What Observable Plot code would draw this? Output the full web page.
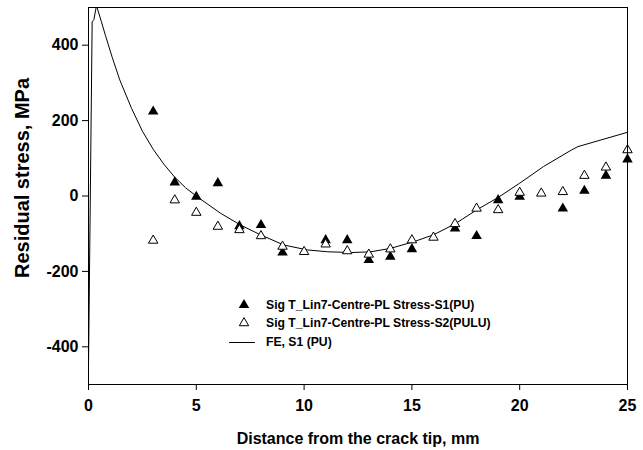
<!DOCTYPE html>
<html><head><meta charset="utf-8">
<script src="https://cdn.jsdelivr.net/npm/d3@7"></script>
<script src="https://cdn.jsdelivr.net/npm/@observablehq/plot@0.6"></script>
<style>
body{margin:0;background:#fff;}
#wrap{position:relative;width:643px;height:450px;font-family:"Liberation Sans",Arial,sans-serif;}
#legend{position:absolute;left:0;top:0;pointer-events:none;}
</style></head><body><div id="wrap"></div>
<script>
// Measured series S1 (filled triangles)
const s1Dist = [3,4,5,6,7,8,9,11,12,13,14,15,17,18,19,20,22,23,24,25];
const s1Stress = [224,36,-2,34,-80,-77,-150,-117,-117,-170,-161,-141,-86,-106,-11,-2,-33,14,54,97];
// Measured series S2 (open triangles)
const s2Dist = [3,4,5,6,7,8,9,10,11,12,13,14,15,16,17,18,19,20,21,22,23,24,25];
const s2Stress = [-118,-11,-44,-81,-90,-106,-134,-148,-128,-146,-155,-141,-117,-110,-74,-33,-37,9,7,11,54,76,122];
// FE prediction curve
const feDist = [0,0.17,0.25,0.37,0.6,0.79,1.1,1.45,2.0,2.5,3.0,3.5,4.0,4.5,5.04,6.13,7.05,7.98,9.06,10.15,11.1,12.2,13.1,14.0,15.1,16.0,17.0,18.0,19.0,20.0,21.1,22.4,22.7,25];
const feStress = [-455,462,468,505,462,425,368,308,232,172,124,84,50,22,-2,-46,-77,-103,-130,-143,-148,-150,-148,-139,-121,-103,-74,-37,-4,34,78,122,131,169];

const xTicks = [0,5,10,15,20,25];
const yTicks = [-400,-200,0,200,400];
const xTitle = "Distance from the crack tip, mm";
const yTitle = "Residual stress, MPa";
const legendLabels = ["Sig T_Lin7-Centre-PL Stress-S1(PU)", "Sig T_Lin7-Centre-PL Stress-S2(PULU)", "FE, S1 (PU)"];

const s1 = s1Dist.map((d,i)=>({x:d,y:s1Stress[i]}));
const s2 = s2Dist.map((d,i)=>({x:d,y:s2Stress[i]}));
const fe = feDist.map((d,i)=>({x:d,y:feStress[i]}));

const chart = Plot.plot({
  width: 643, height: 450,
  marginLeft: 88, marginRight: 16, marginTop: 7, marginBottom: 66,
  style: {fontFamily: '"Liberation Sans", Arial, sans-serif', fontSize: "16px", fontWeight: "bold", color: "black", background: "white"},
  x: {domain: [0,25]},
  y: {domain: [-500,500]},
  marks: [
    Plot.line(fe, {x:"x", y:"y", stroke:"black", strokeWidth:1, clip:true}),
    Plot.dot(s1, {x:"x", y:"y", symbol:"triangle", r:3.9, fill:"black", stroke:"none"}),
    Plot.dot(s2, {x:"x", y:"y", symbol:"triangle", r:3.5, fill:"white", stroke:"black", strokeWidth:1}),
    Plot.frame({stroke:"black"}),
    Plot.axisX({ticks:xTicks, tickSize:6, tickPadding:9, label:null, tickFormat: d=>String(d)}),
    Plot.axisY({ticks:yTicks, tickSize:6, tickPadding:4, label:null, tickFormat: d=>String(d)}),
    Plot.text([xTitle], {frameAnchor:"bottom", dy:54, lineAnchor:"middle", textAnchor:"middle", fontSize:16, fontWeight:"bold", text:d=>d}),
    Plot.text([yTitle], {frameAnchor:"left", rotate:-90, dx:-66, dy:-18, lineAnchor:"middle", textAnchor:"middle", fontSize:20, fontWeight:"bold", text:d=>d})
  ]
});
const wrap = document.getElementById("wrap");
wrap.appendChild(chart);

// Legend overlay
const lg = d3.select(wrap).append("svg").attr("id","legend").attr("width",643).attr("height",450);
const rowY = [305, 323, 342];
const tri = d3.symbol(d3.symbolTriangle, 3.9*3.9*Math.PI);
const tri2 = d3.symbol(d3.symbolTriangle, 3.5*3.5*Math.PI);
lg.append("path").attr("d", tri()).attr("transform",`translate(244,${rowY[0]})`).attr("fill","black");
lg.append("path").attr("d", tri2()).attr("transform",`translate(244,${rowY[1]})`).attr("fill","white").attr("stroke","black");
lg.append("line").attr("x1",229).attr("x2",255).attr("y1",rowY[2]+0.5).attr("y2",rowY[2]+0.5).attr("stroke","black");
legendLabels.forEach((t,i)=>{
  lg.append("text").attr("x",266).attr("y",rowY[i]).attr("dy","0.35em")
    .style("font-family",'"Liberation Sans", Arial, sans-serif').style("font-size","12.2px").style("font-weight","bold").text(t);
});
</script>
</body></html>
